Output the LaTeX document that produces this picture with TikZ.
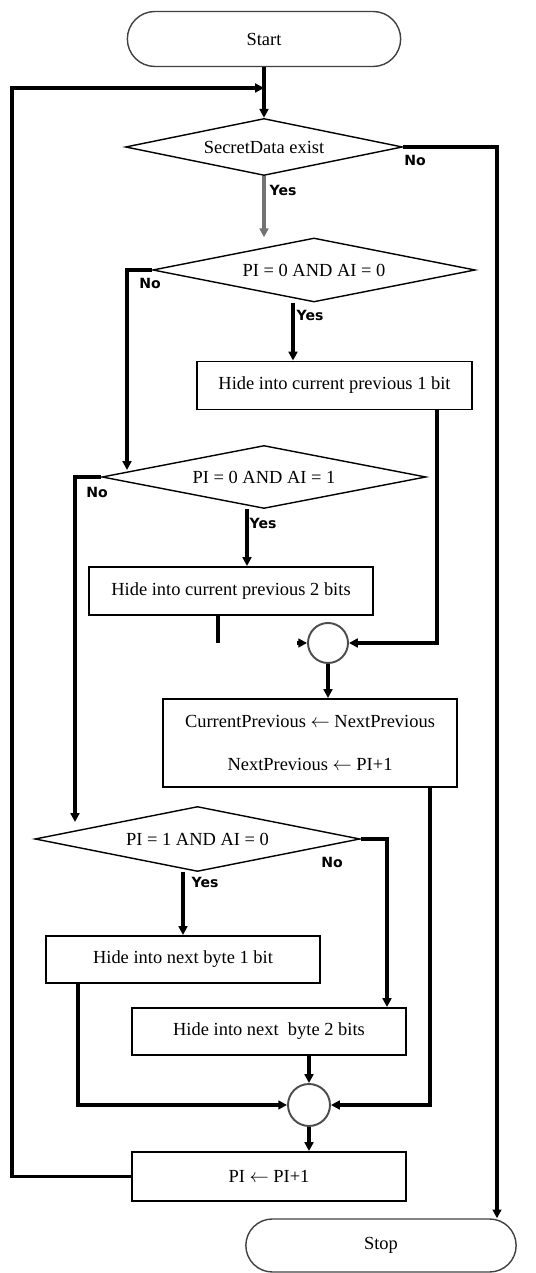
\documentclass[tikz,border=0pt]{standalone}
\usepackage{fontspec}
\setmainfont{Liberation Serif}
\newfontfamily\yesnofont{DejaVu Sans}
\usetikzlibrary{arrows.meta,positioning,shapes.geometric,shapes.misc,calc}

\begin{document}
\begin{tikzpicture}[
  terminal/.style={draw=black!75, line width=0.8pt, rounded rectangle, minimum width=5.7cm, minimum height=1.1cm, font=\fontsize{10.5}{12}\selectfont},
  decision/.style={draw, line width=0.8pt, diamond, aspect=5, inner sep=0pt, minimum width=6.45cm, minimum height=1.28cm, font=\fontsize{10.5}{12}\selectfont},
  process/.style={draw, line width=1.1pt, rectangle, minimum width=5.5cm, minimum height=0.96cm, align=center, font=\fontsize{10.5}{12}\selectfont},
  joint/.style={draw=black!70, line width=1.1pt, circle, inner sep=0pt},
  yesno/.style={font={\yesnofont\fontsize{8}{9}\selectfont\bfseries}},
  flow/.style={line width=1.8pt, -{Triangle[length=5pt,width=5pt]}},
  plain/.style={line width=1.8pt}
]
  \useasboundingbox (0,0) rectangle (10.7,25.46);

  % Start and first test
  \node[terminal] (start) at (5.28,24.68) {Start};
  \node[decision, minimum width=5.54cm, minimum height=1.14cm] (d1) at (5.28,22.52) {SecretData exist};
  \coordinate (join) at (5.28,23.70);
  \coordinate (loopx) at (0.24,23.70);

  % Second test
  \node[decision] (d2) at (6.28,20.06) {PI = 0 AND AI = 0};
  \node[process] (box1) at (6.69,17.75) {Hide into current previous 1 bit};

  % Third test
  \node[decision, minimum width=6.48cm, minimum height=1.26cm] (d3) at (5.28,15.92) {PI = 0 AND AI = 1};
  \node[process, minimum width=5.68cm] (box2) at (4.62,13.64) {Hide into current previous 2 bits};
  \coordinate (stubend) at (4.36,12.60);

  % First joint and update
  \node[joint, minimum size=0.8cm] (c1) at (6.56,12.60) {};
  \coordinate (c1in) at (5.94,12.60);
  \node[process, minimum width=5.88cm, minimum height=1.76cm] (box3) at (6.20,10.60) {CurrentPrevious $\leftarrow$ NextPrevious\\[12pt]NextPrevious $\leftarrow$ PI+1};

  % Fourth test
  \coordinate (no2) at (2.54,16.06);
  \coordinate (no3) at (1.50,9.02);
  \node[decision, minimum width=6.5cm, minimum height=1.3cm] (d4) at (3.95,8.68) {PI = 1 AND AI = 0};
  \node[process, minimum width=5.48cm, minimum height=0.94cm] (box4) at (3.66,6.27) {Hide into next byte 1 bit};
  \node[process, minimum width=5.48cm, minimum height=0.94cm] (box5) at (5.38,4.83) {Hide into next\ \ byte 2 bits};

  % Second joint, increment and stop
  \node[joint, minimum size=0.84cm] (c2) at (6.18,3.36) {};
  \node[process, minimum width=5.48cm, minimum height=0.98cm] (box6) at (5.38,1.93) {PI $\leftarrow$ PI+1};
  \node[terminal, minimum width=5.64cm, minimum height=1.06cm] (stop) at (7.62,0.55) {Stop};

  % Yes / No labels
  \node[yesno] (lno1) at (8.30,22.26) {No};
  \node[yesno] (lyes1) at (5.66,21.66) {Yes};
  \node[yesno] (lno2) at (3.00,19.80) {No};
  \node[yesno] (lyes2) at (6.20,19.16) {Yes};
  \node[yesno] (lno3) at (1.94,15.62) {No};
  \node[yesno] (lyes3) at (5.26,15.00) {Yes};
  \node[yesno] (lno4) at (6.64,8.22) {No};
  \node[yesno] (lyes4) at (4.10,7.82) {Yes};

  % Connectors
  \draw[flow] (start.south) -- (d1.north);
  \draw[flow] (box6.west) -- (box6.west -| loopx) -- (loopx) -- (join);
  \draw[flow] (d1.east) -| ([xshift=2.32cm]stop.north);
  \draw[flow, draw=black!55] (d1.south) -- (d1.south |- d2.north);
  \draw[flow] (d2.west) -| (no2);
  \draw[flow] ([xshift=-0.83cm]box1.north |- d2.south) -- ([xshift=-0.83cm]box1.north);
  \draw[flow] (d3.west) -| (no3);
  \draw[flow] ([xshift=0.32cm]box2.north |- d3.south) -- ([xshift=0.32cm]box2.north);
  \draw[plain] (stubend |- box2.south) -- (stubend);
  \draw[flow] (c1in) -- (c1.west);
  \draw[flow] ([xshift=2.05cm]box1.south) |- (c1.east);
  \draw[flow] (c1.south) -- (c1.south |- box3.north);
  \draw[flow] (box4.north |- d4.south) -- (box4.north);
  \draw[flow] (d4.east) -| ([xshift=2.36cm]box5.north);
  \draw[flow] ([xshift=-2.1cm]box4.south) |- (c2.west);
  \draw[flow] ([xshift=2.4cm]box3.south) |- (c2.east);
  \draw[flow] (box5.south -| c2.north) -- (c2.north);
  \draw[flow] (c2.south) -- (c2.south |- box6.north);
\end{tikzpicture}
\end{document}
